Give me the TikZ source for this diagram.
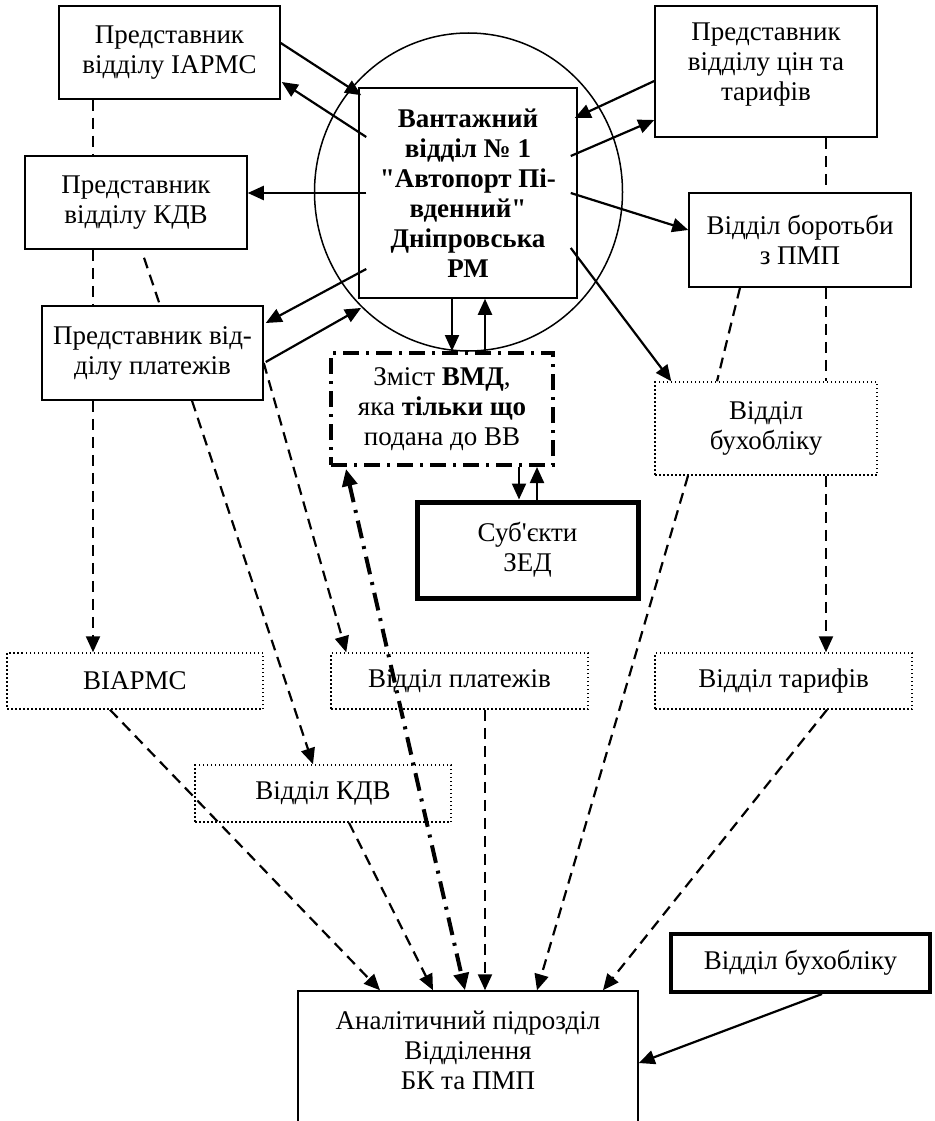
\documentclass[tikz,border=0pt]{standalone}
\usepackage{fontspec}
\setmainfont{Liberation Serif}[Ligatures=TeXOff]
\usetikzlibrary{arrows.meta,shapes.geometric}
\begin{document}
\begin{tikzpicture}[x=1pt,y=-1pt,
  font=\fontsize{27}{30}\selectfont,
  sz/.style 2 args={minimum width=#1pt, minimum height=#2pt},
  box/.style={draw, line width=1.5pt, inner sep=0pt, align=center},
  dotbox/.style={draw, line width=1.5pt, dash pattern=on 1.5pt off 2.5pt, inner sep=0pt, align=center},
  heavybox/.style={draw, line width=#1, inner sep=0pt, align=center},
  ddbox/.style={draw, line width=4pt, dash pattern=on 16pt off 7pt on 3pt off 7pt, inner sep=0pt, align=center},
  txt/.style={inner sep=0pt, align=center},
  tip/.style={-{Triangle[length=16pt,width=14pt]}},
  arr/.style={line width=2.2pt, tip},
  dsh/.style={line width=2.2pt, dash pattern=on 11pt off 7pt},
  darr/.style={dsh, tip},
  ddarr/.style={line width=4pt, dash pattern=on 18pt off 8pt on 3pt off 8pt,
    {Triangle[length=17pt,width=15pt]}-{Triangle[length=17pt,width=15pt]}},
]
\useasboundingbox (0,0) rectangle (934,1121);

% central circle and box
\node[ellipse, draw, line width=1.5pt, inner sep=0pt, sz={308}{318}] (circ) at (468.5,192) {};
\node[box, sz={218}{210}, font=\fontsize{27}{30}\selectfont\bfseries] (cb) at (468,193)
  {Вантажний\\ відділ № 1\\ "Автопорт Пі-\\ вденний"\\ Дніпровська\\ РМ};

% left column
\node[box, sz={221}{93}] (b1) at (169.5,52.5) {Представник\\ відділу ІАРМС};
\node[box, sz={222}{93}] (b2) at (136,202.5) {Представник\\ відділу КДВ};
\node[box, sz={221}{94}] (b3) at (152.5,353) {Представник від-\\ ділу платежів};

% right column
\node[box, sz={222}{131}] (cin) at (766,71.5) {};
\node[txt] (cint) at (766,65) {Представник\\ відділу цін та\\ тарифів};
\node[box, sz={222}{94}] (bor) at (800,240) {Відділ боротьби\\ з ПМП};
\node[dotbox, sz={222}{93}] (bux) at (766,428.5) {Відділ\\ бухобліку};

% middle
\node[ddbox, sz={222}{112}] (vmd) at (442,409) {Зміст \textbf{ВМД},\\ яка \textbf{тільки що}\\ подана до ВВ};
\node[heavybox=5pt, sz={221}{96}] (sub) at (527.5,550) {Суб'єкти\\ ЗЕД};

% dotted row
\node[dotbox, sz={256}{56}] (viarms) at (135,681) {ВІАРМС};
\node[dotbox, sz={257}{56}] (plat) at (459.5,681) {Відділ платежів};
\node[dotbox, sz={257}{56}] (tar) at (783.5,681) {Відділ тарифів};
\node[dotbox, sz={256}{57}] (kdv) at (323,793.5) {Відділ КДВ};

% bottom
\node[heavybox=4pt, sz={259}{58}] (bx2) at (800.5,963) {Відділ бухобліку};
\node[box, sz={340}{160}] (ana) at (468,1071) {};
\node[txt] (anat) at (468,1050) {Аналітичний підрозділ\\ Відділення\\ БК та ПМП};

% solid arrows around the centre
\draw[arr] ([shift={(0,-9.5)}]b1.east) -- ([shift={(3,8)}]cb.north west);
\draw[arr] ([shift={(8,-56)}]cb.west) -- ([shift={(1,29.5)}]b1.east);
\draw[arr] ([xshift=8]cb.west) -- (b2.east |- cb.west);
\draw[arr] ([shift={(8,76)}]cb.west) -- ([shift={(2,-30)}]b3.east);
\draw[arr] ([shift={(2,9)}]b3.east) -- ([shift={(2,3)}]circ.south west);
\draw[arr] ([shift={(0,9.5)}]cin.west) -- ([shift={(-3,-75)}]cb.east);
\draw[arr] ([shift={(-7,-37)}]cb.east) -- ([shift={(0,48.5)}]cin.west);
\draw[arr] ([xshift=-7]cb.east) -- ([shift={(0,-10)}]bor.west);
\draw[arr] ([shift={(-7,55)}]cb.east) -- ([xshift=17]bux.north west);
\draw[arr] ([xshift=-16]cb.south) -- ([xshift=10]vmd.north);
\draw[arr] ([xshift=43]vmd.north) -- ([xshift=17]cb.south);
\draw[arr] ([xshift=77]vmd.south) -- ([xshift=-8.5]sub.north);
\draw[arr] ([xshift=9.5]sub.north) -- ([xshift=95]vmd.south);

% dashed links without heads
\draw[dsh] ([xshift=-76.5]b1.south) -- ([xshift=-43]b2.north);
\draw[dsh] ([xshift=-43]b2.south) -- ([xshift=-59.5]b3.north);
\draw[dsh] ([shift={(8,8)}]b2.south) -- ([shift={(6.5,-3)}]b3.north);
\draw[dsh] ([xshift=60]cin.south) -- ([xshift=26]bor.north);
\draw[dsh] ([xshift=-60]bor.south) -- ([xshift=-49]bux.north);
\draw[dsh] ([xshift=26]bor.south) -- ([xshift=60]bux.north);

% dashed arrows
\draw[darr] ([xshift=-59.5]b3.south) -- ([xshift=-42]viarms.north);
\draw[darr] ([xshift=39.5]b3.south) -- ([xshift=-10]kdv.north);
\draw[darr] ([shift={(0,10)}]b3.east) -- ([xshift=16]plat.north west);
\draw[darr] ([xshift=60]bux.south) -- ([xshift=42.5]tar.north);

% into the analytical unit
\draw[darr] ([xshift=-25]viarms.south) -- ([xshift=-88]ana.north);
\draw[darr] ([xshift=26]kdv.south) -- ([xshift=-35]ana.north);
\draw[ddarr] ([shift={(17,2)}]vmd.south west) -- ([xshift=-3]ana.north);
\draw[darr] ([xshift=25.5]plat.south) -- ([xshift=17]ana.north);
\draw[darr] ([xshift=-78]bux.south) -- ([xshift=69]ana.north);
\draw[darr] ([xshift=43.5]tar.south) -- ([xshift=135]ana.north);
\draw[arr] ([xshift=21.5]bx2.south) -- ([shift={(0,-8)}]ana.east);
\end{tikzpicture}
\end{document}
